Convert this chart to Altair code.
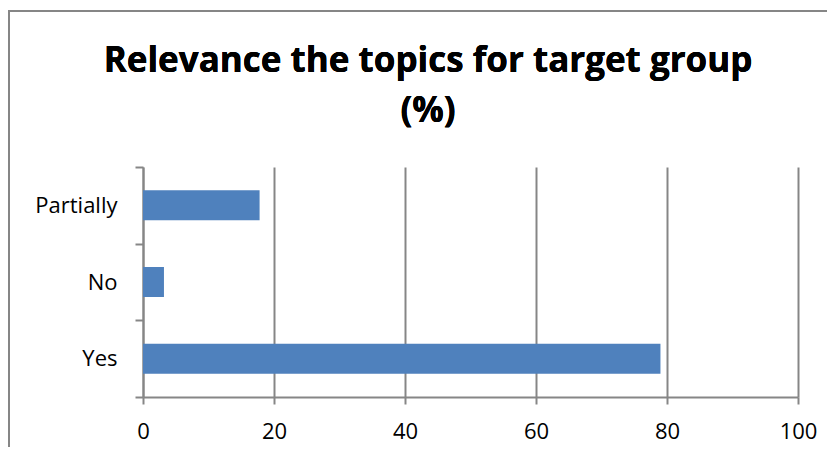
import altair as alt
import pandas as pd

categories = ["Partially", "No", "Yes"]
values = [17.8, 3.2, 79.0]
title_lines = ["Relevance the topics for target group", "(%)"]

df = pd.DataFrame({"category": categories, "value": values})

GRAY = "#868686"
FONT = "Open Sans"

bars = alt.Chart(df).mark_bar(color="#4F81BD", size=30).encode(
    x=alt.X(
        "value:Q",
        scale=alt.Scale(domain=[0, 100], nice=False),
        axis=alt.Axis(
            values=[0, 20, 40, 60, 80, 100],
            title=None,
            grid=True,
            gridColor=GRAY,
            gridWidth=2,
            domainColor=GRAY,
            domainWidth=2,
            tickColor=GRAY,
            tickWidth=2,
            tickSize=7,
            labelPadding=17,
            labelFlush=False,
            labelFont=FONT,
            labelFontSize=22,
            labelColor="#000000",
        ),
    ),
    y=alt.Y(
        "category:N",
        sort=categories,
        scale=alt.Scale(paddingInner=0, paddingOuter=0),
        axis=alt.Axis(
            title=None,
            tickBand="extent",
            domainColor=GRAY,
            domainWidth=2,
            tickColor=GRAY,
            tickWidth=2,
            tickSize=8,
            labelPadding=18,
            labelFont=FONT,
            labelFontSize=22,
            labelColor="#000000",
        ),
    ),
)

border = alt.Chart(df).mark_rect(
    fill=None, stroke=GRAY, strokeWidth=2
).encode(
    x=alt.value(-134),
    x2=alt.value(720),
    y=alt.value(-156),
    y2=alt.value(320),
)

title1 = alt.Chart(df).mark_text(
    font=FONT, fontSize=35, fontWeight="bold", color="#000000",
    align="center", baseline="alphabetic",
).encode(
    text=alt.value(title_lines[0]),
    x=alt.value(285),
    y=alt.value(-95),
)

title2 = alt.Chart(df).mark_text(
    font=FONT, fontSize=35, fontWeight="bold", color="#000000",
    align="center", baseline="alphabetic",
).encode(
    text=alt.value(title_lines[1]),
    x=alt.value(285),
    y=alt.value(-45),
)

chart = alt.layer(border, bars, title1, title2).properties(
    width=655,
    height=230,
    autosize=alt.AutoSizeParams(type="none"),
    padding={"left": 135, "top": 159, "right": 29, "bottom": 50},
).configure_view(stroke=None)

chart.save("out.html", embed_options={"renderer": "svg", "actions": False})
